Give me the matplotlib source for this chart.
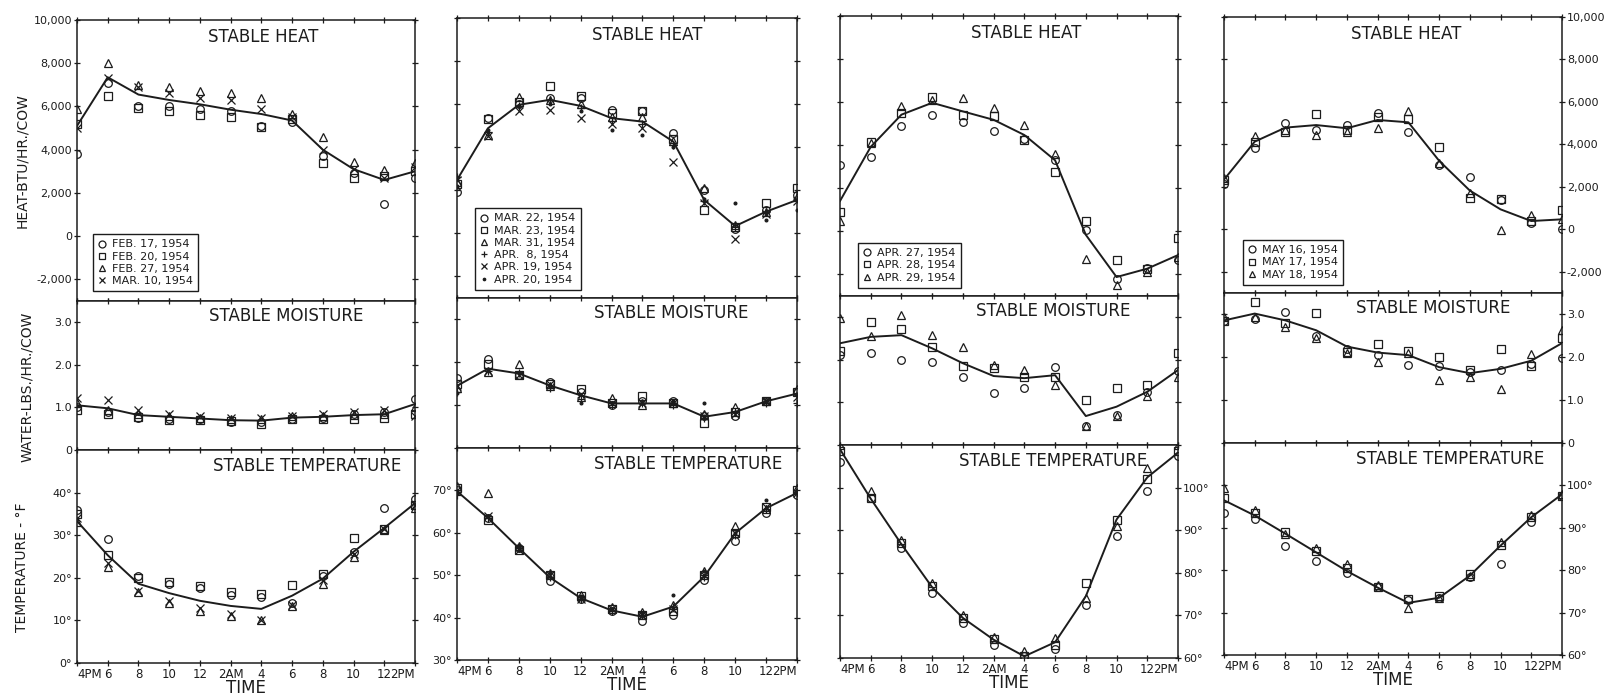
import matplotlib
matplotlib.use("Agg")
import matplotlib.pyplot as plt
from matplotlib.lines import Line2D

# ---------------- data ----------------
hours = [0, 2, 4, 6, 8, 10, 12, 14, 16, 18, 20, 22]
time_labels = ["4PM", "6", "8", "10", "12", "2AM", "4", "6", "8", "10", "12", "2PM"]

# Column 1 : February / early March 1954
dates_1 = ["FEB. 17, 1954", "FEB. 20, 1954", "FEB. 27, 1954", "MAR. 10, 1954"]
heat_line_1 = [5100, 7350, 6550, 6300, 6100, 5850, 5650, 5350, 4000, 3100, 2600, 3000]
heat_pts_1 = [
    [3800, 7100, 6000, 6000, 5900, 5800, 5100, 5300, 3700, 2900, 1500, 2700],
    [5200, 6500, 5950, 5800, 5600, 5500, 5050, 5400, 3400, 2700, 2800, 3000],
    [5900, 8000, 7000, 6900, 6700, 6600, 6400, 5650, 4600, 3450, 3050, 3400],
    [5000, 7300, 6900, 6600, 6400, 6300, 5900, 5500, 4000, 3100, 2700, 3200],
]
moist_line_1 = [1.05, 0.98, 0.82, 0.78, 0.74, 0.70, 0.69, 0.76, 0.78, 0.82, 0.84, 1.08]
moist_pts_1 = [
    [1.00, 0.90, 0.75, 0.72, 0.72, 0.65, 0.65, 0.72, 0.75, 0.85, 0.90, 1.20],
    [0.95, 0.85, 0.78, 0.70, 0.70, 0.68, 0.62, 0.72, 0.72, 0.72, 0.75, 0.85],
    [1.10, 0.95, 0.85, 0.80, 0.75, 0.72, 0.72, 0.80, 0.80, 0.82, 0.85, 1.00],
    [1.22, 1.18, 0.95, 0.85, 0.80, 0.75, 0.75, 0.80, 0.85, 0.90, 0.95, 0.80],
]
temp_line_1 = [33.3, 25.3, 18.6, 16.4, 14.6, 13.4, 12.7, 15.8, 19.8, 26.1, 31.7, 37.5]
temp_pts_1 = [
    [36.0, 29.0, 20.5, 18.5, 17.5, 16.0, 15.5, 14.0, 20.5, 26.0, 36.5, 38.5],
    [35.0, 25.3, 20.0, 19.0, 18.0, 16.6, 16.2, 18.2, 21.0, 29.3, 31.5, 37.0],
    [33.0, 22.5, 16.6, 14.2, 12.2, 11.0, 10.2, 13.4, 18.6, 24.9, 31.3, 36.5],
    [34.0, 23.5, 17.0, 14.5, 13.0, 11.5, 10.0, 13.5, 19.5, 25.5, 31.5, 37.0],
]

# Column 2 : late March / April 1954
dates_2 = ["MAR. 22, 1954", "MAR. 23, 1954", "MAR. 31, 1954",
           "APR.  8, 1954", "APR. 19, 1954", "APR. 20, 1954"]
heat_line_2 = [2480, 4880, 5970, 6200, 5920, 5350, 5190, 4260, 1550, 340, 1010, 1550]
heat_pts_2 = [
    [1940, 5350, 6000, 6300, 6300, 5735, 5660, 4650, 2000, 200, 1100, 1800],
    [2300, 5300, 6100, 6820, 6386, 5600, 5700, 4400, 1085, 300, 1400, 2090],
    [2400, 4570, 6320, 6200, 6000, 5400, 5400, 4300, 2090, 400, 1000, 1700],
    [2600, 4700, 5900, 6200, 5800, 5200, 5100, 4100, 1500, 300, 1000, 1600],
    [2500, 4500, 5700, 5735, 5350, 5100, 4900, 3330, 1400, -280, 900, 1500],
    [2200, 4800, 5900, 6000, 5700, 4805, 4570, 4000, 1600, 1400, 620, 1085],
]
moist_line_2 = [1.45, 1.85, 1.74, 1.46, 1.23, 1.04, 1.04, 1.04, 0.73, 0.84, 1.09, 1.27]
moist_pts_2 = [
    [1.64, 2.07, 1.70, 1.55, 1.30, 1.00, 1.10, 1.10, 0.75, 0.74, 1.10, 1.30],
    [1.50, 1.95, 1.70, 1.50, 1.37, 1.05, 1.21, 1.05, 0.59, 0.85, 1.10, 1.30],
    [1.40, 1.77, 1.95, 1.45, 1.20, 1.16, 1.00, 1.05, 0.80, 0.95, 1.10, 1.37],
    [1.30, 1.80, 1.75, 1.40, 1.15, 1.00, 1.05, 1.00, 0.70, 0.85, 1.05, 1.05],
    [1.45, 1.80, 1.70, 1.50, 1.25, 1.05, 1.05, 1.05, 0.75, 0.80, 1.10, 1.20],
    [1.29, 1.85, 1.75, 1.45, 1.05, 1.05, 1.10, 1.10, 1.05, 0.85, 1.10, 1.25],
]
temp_line_2 = [69.8, 63.5, 56.4, 49.5, 44.6, 41.7, 40.2, 42.6, 49.7, 59.9, 65.8, 69.4]
temp_pts_2 = [
    [70.0, 63.5, 56.5, 48.7, 44.5, 41.5, 39.1, 40.6, 48.9, 58.0, 64.6, 69.0],
    [70.5, 63.0, 56.0, 50.0, 45.0, 42.0, 40.5, 41.5, 50.0, 60.0, 66.0, 70.0],
    [71.0, 69.4, 57.0, 50.5, 45.4, 42.5, 41.4, 43.0, 51.0, 61.5, 65.5, 70.5],
    [69.0, 63.5, 56.5, 49.5, 44.5, 41.5, 40.5, 42.5, 49.5, 59.5, 65.5, 69.5],
    [70.0, 64.0, 56.0, 50.0, 44.5, 42.0, 40.5, 42.0, 50.0, 60.0, 66.0, 69.5],
    [69.5, 64.0, 57.0, 50.5, 45.0, 42.0, 41.0, 45.4, 51.0, 60.0, 67.8, 70.0],
]

# Column 3 : late April 1954
dates_3 = ["APR. 27, 1954", "APR. 28, 1954", "APR. 29, 1954"]
heat_line_3 = [1410, 3925, 5420, 5970, 5570, 5180, 4475, 3300, -160, -2120, -1730, -1100]
heat_pts_3 = [
    [3100, 3450, 4900, 5420, 5100, 4680, 4300, 3300, 80, -2200, -1700, -1330],
    [900, 4160, 5500, 6250, 5420, 5370, 4240, 2750, 470, -1330, -1730, -310],
    [500, 4100, 5810, 6100, 6200, 5730, 4950, 3610, -1260, -2500, -1880, -1200],
]
moist_line_3 = [2.39, 2.54, 2.58, 2.27, 1.92, 1.62, 1.57, 1.64, 0.68, 0.90, 1.25, 1.76]
moist_pts_3 = [
    [2.11, 2.17, 2.00, 1.96, 1.59, 1.21, 1.33, 1.84, 0.45, 0.70, 1.25, 1.75],
    [2.20, 2.90, 2.72, 2.30, 1.85, 1.80, 1.60, 1.60, 1.06, 1.35, 1.40, 2.17],
    [2.98, 2.55, 3.05, 2.58, 2.31, 1.88, 1.76, 1.41, 0.45, 0.67, 1.14, 1.60],
]
temp_line_3 = [109.0, 97.4, 86.7, 76.6, 69.4, 64.3, 60.4, 63.7, 74.5, 92.5, 102.4, 108.2]
temp_pts_3 = [
    [105.9, 97.5, 85.9, 75.3, 68.2, 63.1, 60.5, 62.0, 72.5, 88.6, 99.2, 107.5],
    [108.5, 97.5, 87.0, 77.0, 69.5, 64.5, 60.5, 63.0, 77.6, 92.5, 102.0, 108.5],
    [110.0, 99.2, 87.8, 77.5, 70.0, 65.0, 61.6, 64.7, 74.0, 91.0, 104.7, 110.0],
]

# Column 4 : May 1954
dates_4 = ["MAY 16, 1954", "MAY 17, 1954", "MAY 18, 1954"]
heat_line_4 = [2340, 4130, 4790, 4910, 4760, 5150, 5040, 3230, 1825, 940, 390, 470]
heat_pts_4 = [
    [2140, 3820, 4990, 4700, 4900, 5460, 4600, 3010, 2450, 1400, 310, 0],
    [2300, 4100, 4570, 5410, 4680, 5300, 5200, 3900, 1480, 1450, 400, 890],
    [2400, 4410, 4700, 4450, 4600, 4760, 5570, 3100, 1700, -50, 670, 500],
]
moist_line_4 = [2.86, 3.02, 2.86, 2.63, 2.25, 2.11, 2.05, 1.77, 1.63, 1.73, 1.92, 2.33]
moist_pts_4 = [
    [2.85, 2.90, 3.05, 2.50, 2.20, 2.05, 1.82, 1.80, 1.65, 1.70, 1.85, 1.98],
    [2.85, 3.29, 2.80, 3.03, 2.13, 2.31, 2.15, 2.00, 1.70, 2.20, 1.80, 2.45],
    [2.95, 2.95, 2.70, 2.45, 2.10, 1.90, 2.10, 1.47, 1.55, 1.27, 2.07, 2.64],
]
temp_line_4 = [96.5, 92.9, 88.6, 84.2, 79.8, 75.9, 72.3, 73.5, 78.7, 85.8, 92.5, 97.9]
temp_pts_4 = [
    [93.6, 92.1, 85.6, 82.2, 79.4, 76.0, 73.0, 73.5, 78.5, 81.4, 91.3, 97.5],
    [97.1, 93.5, 89.0, 84.5, 80.5, 76.0, 73.3, 73.9, 79.0, 86.0, 92.5, 97.5],
    [99.3, 94.3, 88.5, 85.2, 81.4, 76.5, 71.1, 73.5, 78.7, 86.6, 93.1, 98.0],
]

heat_ticks = [-2000, 0, 2000, 4000, 6000, 8000, 10000]
heat_tick_labels = ["-2,000", "0", "2,000", "4,000", "6,000", "8,000", "10,000"]
moist_ticks = [0, 1, 2, 3]
moist_tick_labels = ["0", "1.0", "2.0", "3.0"]
temp_ranges = [(0, 50), (30, 80), (60, 110), (60, 110)]

# ---------------- style / layout ----------------
INK = "#1c1c1c"
plt.rcParams["font.family"] = ["DejaVu Sans"]
marker_set = ["o", "s", "^", "+", "x", "."]
marker_set_1 = ["o", "s", "^", "x"]

W, H = 1604, 696
fig = plt.figure(figsize=(W / 100, H / 100), dpi=100)
fig.patch.set_facecolor("white")

# left, right, top(heat), top(moist), top(temp), bottom  (pixels)
geom = [(77, 415, 20, 301, 450, 663),
        (457, 797, 18, 298, 448, 660),
        (840, 1178, 16, 296, 445, 658),
        (1224, 1562, 17, 293, 443, 655)]
label_side = [("left", "left", "left"), (None, None, "left"),
              (None, None, "right"), ("right", "right", "right")]
heat_title_x = [0.55, 0.56, 0.55, 0.54]
moist_title_x = [0.62, 0.63, 0.63, 0.62]
temp_title_x = [0.68, 0.68, 0.63, 0.67]
legend_anchor = [(0.047, 0.035), (0.053, 0.03), (0.053, 0.03), (0.056, 0.03)]

columns = [
    (dates_1, marker_set_1, heat_line_1, heat_pts_1, moist_line_1, moist_pts_1, temp_line_1, temp_pts_1),
    (dates_2, marker_set, heat_line_2, heat_pts_2, moist_line_2, moist_pts_2, temp_line_2, temp_pts_2),
    (dates_3, marker_set, heat_line_3, heat_pts_3, moist_line_3, moist_pts_3, temp_line_3, temp_pts_3),
    (dates_4, marker_set, heat_line_4, heat_pts_4, moist_line_4, moist_pts_4, temp_line_4, temp_pts_4),
]


def make_ax(l, r, t, b):
    ax = fig.add_axes([l / W, 1 - b / H, (r - l) / W, (b - t) / H])
    for s in ax.spines.values():
        s.set_color(INK)
        s.set_linewidth(1.1)
    ax.set_xlim(0, 22)
    ax.set_xticks(hours)
    ax.tick_params(axis="both", which="both", direction="inout", length=5, width=0.9,
                   color=INK, labelcolor=INK, top=True, right=True, left=True, bottom=True,
                   labelleft=False, labelright=False, labelbottom=False, labelsize=8)
    return ax


def draw_series(ax, line, pts, markers):
    ax.plot(hours, line, color=INK, lw=1.4, zorder=2)
    for vals, m in zip(pts, markers):
        filled = m in ("+", "x", ".")
        ax.plot(hours, vals, linestyle="none", marker=m,
                markersize=5.5 if m != "." else 4,
                markerfacecolor=INK if filled else "none",
                markeredgecolor=INK, markeredgewidth=0.9, zorder=3)


def set_labels(ax, side):
    if side == "left":
        ax.tick_params(labelleft=True, pad=1)
    elif side == "right":
        ax.tick_params(labelright=True, pad=1)


for ci, (dates, markers, hl, hp, ml, mp, tl, tp) in enumerate(columns):
    l, r, t0, t1, t2, b = geom[ci]
    sides = label_side[ci]

    # heat
    axh = make_ax(l, r, t0, t1)
    axh.set_ylim(-3000, 10000)
    axh.set_yticks(heat_ticks)
    axh.set_yticklabels(heat_tick_labels)
    set_labels(axh, sides[0])
    draw_series(axh, hl, hp, markers)
    axh.text(heat_title_x[ci], 0.94, "STABLE HEAT", transform=axh.transAxes,
             ha="center", va="center", fontsize=12, color=INK)
    handles = [Line2D([], [], linestyle="none", marker=m,
                      markersize=5 if m != "." else 3.5,
                      markerfacecolor=INK if m in ("+", "x", ".") else "none",
                      markeredgecolor=INK, markeredgewidth=0.9)
               for m in markers[:len(dates)]]
    leg = axh.legend(handles, dates, loc="lower left", bbox_to_anchor=legend_anchor[ci],
                     frameon=True, fancybox=False, framealpha=1, edgecolor=INK,
                     fontsize=8, handlelength=0.8, handletextpad=0.5,
                     labelspacing=0.2, borderpad=0.45, borderaxespad=0)
    leg.get_frame().set_linewidth(1.0)
    for txt in leg.get_texts():
        txt.set_color(INK)

    # moisture
    axm = make_ax(l, r, t1, t2)
    axm.set_ylim(0, 3.5)
    axm.set_yticks(moist_ticks)
    axm.set_yticklabels(moist_tick_labels)
    set_labels(axm, sides[1])
    draw_series(axm, ml, mp, markers)
    axm.text(moist_title_x[ci], 0.9, "STABLE MOISTURE", transform=axm.transAxes,
             ha="center", va="center", fontsize=12, color=INK)

    # temperature
    axt = make_ax(l, r, t2, b)
    lo, hi = temp_ranges[ci]
    axt.set_ylim(lo, hi)
    tt = list(range(lo, hi, 10))
    axt.set_yticks(tt)
    axt.set_yticklabels([f"{v}°" for v in tt])
    set_labels(axt, sides[2])
    draw_series(axt, tl, tp, markers)
    axt.text(temp_title_x[ci], 0.925, "STABLE TEMPERATURE", transform=axt.transAxes,
             ha="center", va="center", fontsize=12, color=INK)
    axt.tick_params(axis="x", labelbottom=True, pad=1)
    axt.set_xticklabels(time_labels, fontsize=8.5)
    axt.get_xticklabels()[0].set_horizontalalignment("left")
    axt.get_xticklabels()[-1].set_horizontalalignment("right")
    axt.set_xlabel("TIME", fontsize=12, color=INK, labelpad=-1)

# y-axis titles (left of first column)
fig.text(22 / W, 1 - 161 / H, "HEAT-BTU/HR./COW", rotation=90, ha="center", va="center",
         fontsize=10, color=INK)
fig.text(27 / W, 1 - 387 / H, "WATER-LBS./HR./COW", rotation=90, ha="center", va="center",
         fontsize=10, color=INK)
fig.text(22 / W, 1 - 567 / H, "TEMPERATURE - °F", rotation=90, ha="center", va="center",
         fontsize=10, color=INK)

fig.savefig("out.png", dpi=100, facecolor="white")
